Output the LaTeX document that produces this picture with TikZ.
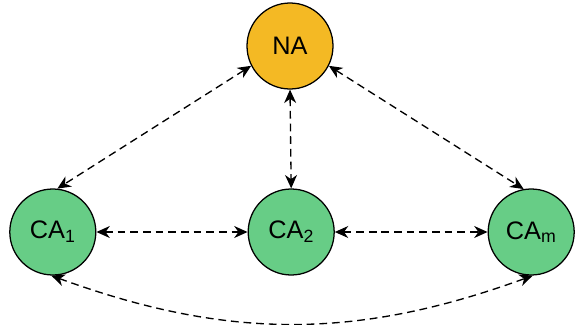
\documentclass[tikz,border=0pt]{standalone}
\usepackage{fontspec}
\setmainfont{Liberation Sans}
\usepackage{tikz}
\usetikzlibrary{arrows.meta,positioning}
\definecolor{agentorange}{RGB}{244,185,36}
\definecolor{agentgreen}{RGB}{103,205,134}

\begin{document}
\begin{tikzpicture}[
        font=\fontsize{18}{21}\selectfont,
        agent/.style={circle, draw, line width=0.9pt, minimum size=2.15cm, inner sep=0pt},
        link/.style={line width=0.95pt, dash pattern=on 5.5pt off 3.5pt, {Stealth[length=9.5pt,width=8.5pt,inset=3pt]}-{Stealth[length=9.5pt,width=8.5pt,inset=3pt]}}
    ]
        \useasboundingbox (0,0) rectangle (14.375,8.1);

        \node[agent, fill=agentorange] (na) at (7.25,6.95) {NA};
        \node[agent, fill=agentgreen] (ca1) at (1.32,2.3) {CA\textsubscript{1}};
        \node[agent, fill=agentgreen] (ca2) at (7.28,2.3) {CA\textsubscript{2}};
        \node[agent, fill=agentgreen] (cam) at (13.28,2.3) {CA\textsubscript{m}};

        \draw[link] (na.207) -- (ca1.84);
        \draw[link] (na.south) -- (ca2.north);
        \draw[link] (na.333) -- (cam.100);
        \draw[link] (ca1.east) -- (ca2.west);
        \draw[link] (ca2.east) -- (cam.west);
        \draw[link] (ca1.268) to[bend right=20] (cam.272);
    \end{tikzpicture}
\end{document}
